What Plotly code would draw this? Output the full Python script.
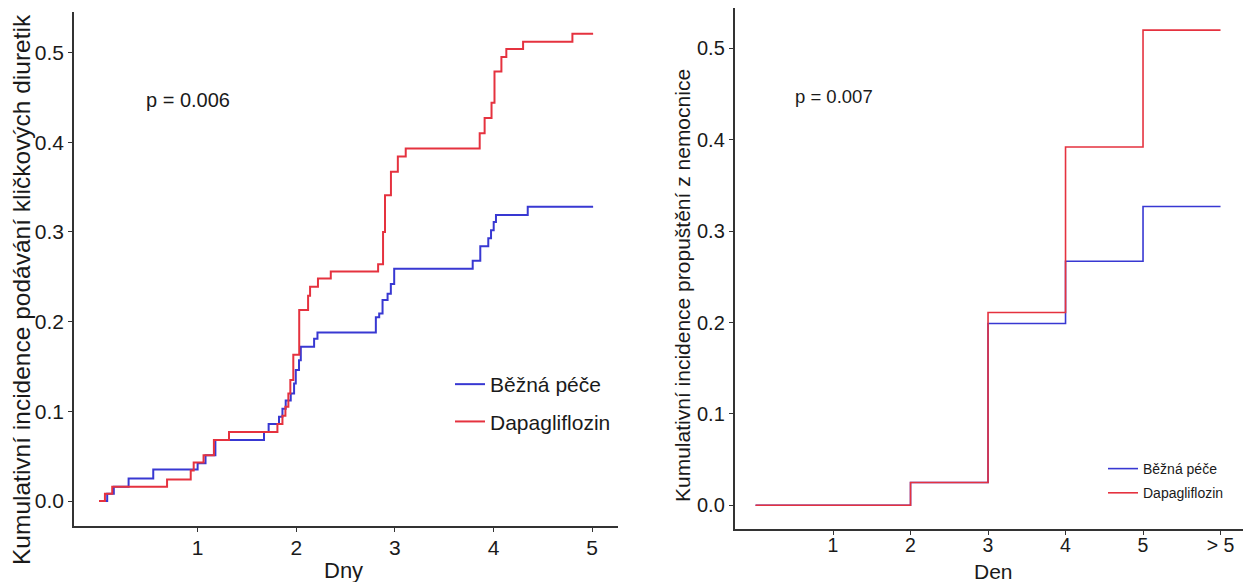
import plotly.graph_objects as go
from plotly.subplots import make_subplots

# ---- Left panel: cumulative incidence of loop diuretic use (days) ----
left_blue_t = [0, 0.083, 0.15, 0.30, 0.55, 1.0, 1.08, 1.18, 1.673, 1.72, 1.825, 1.86, 1.893,
               1.944, 1.978, 1.995, 2.028, 2.046, 2.181, 2.215, 2.807, 2.841, 2.875, 2.926,
               2.959, 2.993, 3.789, 3.866, 3.947, 3.975, 4.002, 4.025, 4.347, 5.01]
left_blue_v = [0, 0.008, 0.016, 0.025, 0.035, 0.042, 0.051, 0.068, 0.077, 0.086, 0.094, 0.103, 0.112,
               0.120, 0.131, 0.146, 0.157, 0.172, 0.181, 0.188, 0.205, 0.209, 0.224, 0.231,
               0.242, 0.259, 0.268, 0.284, 0.293, 0.302, 0.311, 0.319, 0.328, 0.328]

left_red_t = [0, 0.06, 0.134, 0.69, 0.93, 0.96, 1.06, 1.165, 1.318, 1.809, 1.86, 1.89, 1.92, 1.94,
              1.97, 2.03, 2.12, 2.14, 2.22, 2.35, 2.83, 2.88, 2.90, 2.96, 3.03, 3.11, 3.86, 3.91,
              3.98, 4.01, 4.08, 4.13, 4.30, 4.80, 5.01]
left_red_v = [0, 0.008, 0.016, 0.024, 0.034, 0.043, 0.051, 0.068, 0.077, 0.086, 0.095, 0.105, 0.120, 0.135,
              0.163, 0.213, 0.229, 0.239, 0.248, 0.256, 0.264, 0.300, 0.341, 0.367, 0.384, 0.393, 0.410, 0.427,
              0.444, 0.479, 0.495, 0.504, 0.512, 0.521, 0.521]

# ---- Right panel: cumulative incidence of hospital discharge (day) ----
right_t = [0, 2, 3, 4, 5, 6]
right_blue_v = [0, 0.025, 0.199, 0.267, 0.327, 0.327]
right_red_v = [0, 0.025, 0.211, 0.392, 0.520, 0.520]

left_xticks = [1, 2, 3, 4, 5]
left_xlabels = ["1", "2", "3", "4", "5"]
right_xticks = [1, 2, 3, 4, 5, 6]
right_xlabels = ["1", "2", "3", "4", "5", "> 5"]
yticks = [0.0, 0.1, 0.2, 0.3, 0.4, 0.5]
ylabels = ["0.0", "0.1", "0.2", "0.3", "0.4", "0.5"]

names = ["Běžná péče", "Dapagliflozin"]
BLUE = "#3838D2"
RED = "#E5323F"
FONT = "Liberation Sans, Arial, sans-serif"
TXT = "#1a1a1a"

fig = make_subplots(rows=1, cols=2)

fig.add_trace(go.Scatter(x=left_blue_t, y=left_blue_v, mode="lines", line=dict(shape="hv", color=BLUE, width=2),
                         name=names[0], legend="legend", legendgroup="a"), row=1, col=1)
fig.add_trace(go.Scatter(x=left_red_t, y=left_red_v, mode="lines", line=dict(shape="hv", color=RED, width=2),
                         name=names[1], legend="legend", legendgroup="b"), row=1, col=1)
fig.add_trace(go.Scatter(x=right_t, y=right_blue_v, mode="lines", line=dict(shape="hv", color=BLUE, width=1.6),
                         name=names[0], legend="legend2", legendgroup="c"), row=1, col=2)
fig.add_trace(go.Scatter(x=right_t, y=right_red_v, mode="lines", line=dict(shape="hv", color=RED, width=1.6),
                         name=names[1], legend="legend2", legendgroup="d"), row=1, col=2)

axis_common = dict(showgrid=False, zeroline=False, showline=True, linecolor="#333333", linewidth=1.6,
                   ticks="outside", ticklen=4, tickcolor="#333333", tickwidth=1.2)

fig.update_xaxes(**axis_common, domain=[0.0595, 0.497], range=[-0.254, 5.26],
                 tickvals=left_xticks, ticktext=left_xlabels, ticklabelstandoff=-2,
                 tickfont=dict(size=21, color=TXT, family=FONT), row=1, col=1)
fig.update_yaxes(**axis_common, domain=[0.096, 0.979], range=[-0.028, 0.545],
                 tickvals=yticks, ticktext=ylabels,
                 tickfont=dict(size=21, color=TXT, family=FONT), row=1, col=1)
fig.update_xaxes(**axis_common, domain=[0.591, 1.0], range=[-0.27, 6.29],
                 tickvals=right_xticks, ticktext=right_xlabels, ticklabelstandoff=-6,
                 tickfont=dict(size=19.5, color=TXT, family=FONT), row=1, col=2)
fig.update_yaxes(**axis_common, domain=[0.091, 0.986], range=[-0.026, 0.544],
                 tickvals=yticks, ticktext=ylabels,
                 tickfont=dict(size=20, color=TXT, family=FONT), row=1, col=2)

annotations = [
    dict(text="Kumulativní incidence podávání kličkových diuretik", x=21 / 1243, y=1 - 290 / 582,
         textangle=-90, font=dict(size=24.5, color=TXT, family=FONT)),
    dict(text="Kumulativní incidence propuštění z nemocnice", x=682 / 1243, y=1 - 286 / 582,
         textangle=-90, font=dict(size=21, color=TXT, family=FONT)),
    dict(text="Dny", x=343 / 1243, y=1 - 570 / 582, font=dict(size=22, color=TXT, family=FONT)),
    dict(text="Den", x=993 / 1243, y=1 - 571 / 582, font=dict(size=21, color=TXT, family=FONT)),
    dict(text="p = 0.006", x=188 / 1243, y=1 - 100 / 582, font=dict(size=20, color=TXT, family=FONT)),
    dict(text="p = 0.007", x=834 / 1243, y=1 - 97 / 582, font=dict(size=18.5, color=TXT, family=FONT)),
]
for a in annotations:
    a.update(xref="paper", yref="paper", showarrow=False, xanchor="center", yanchor="middle")

fig.update_layout(
    width=1243, height=582,
    margin=dict(l=0, r=0, t=0, b=0),
    paper_bgcolor="white", plot_bgcolor="white",
    font=dict(family=FONT, color=TXT),
    annotations=annotations,
    legend=dict(x=450 / 1243, y=1 - 364 / 582, xanchor="left", yanchor="top",
                font=dict(size=21, family=FONT, color=TXT),
                bgcolor="rgba(0,0,0,0)", tracegroupgap=7),
    legend2=dict(x=1103 / 1243, y=1 - 453 / 582, xanchor="left", yanchor="top",
                 font=dict(size=14, family=FONT, color=TXT),
                 bgcolor="rgba(0,0,0,0)", tracegroupgap=3),
)

fig.write_html("out.html")
